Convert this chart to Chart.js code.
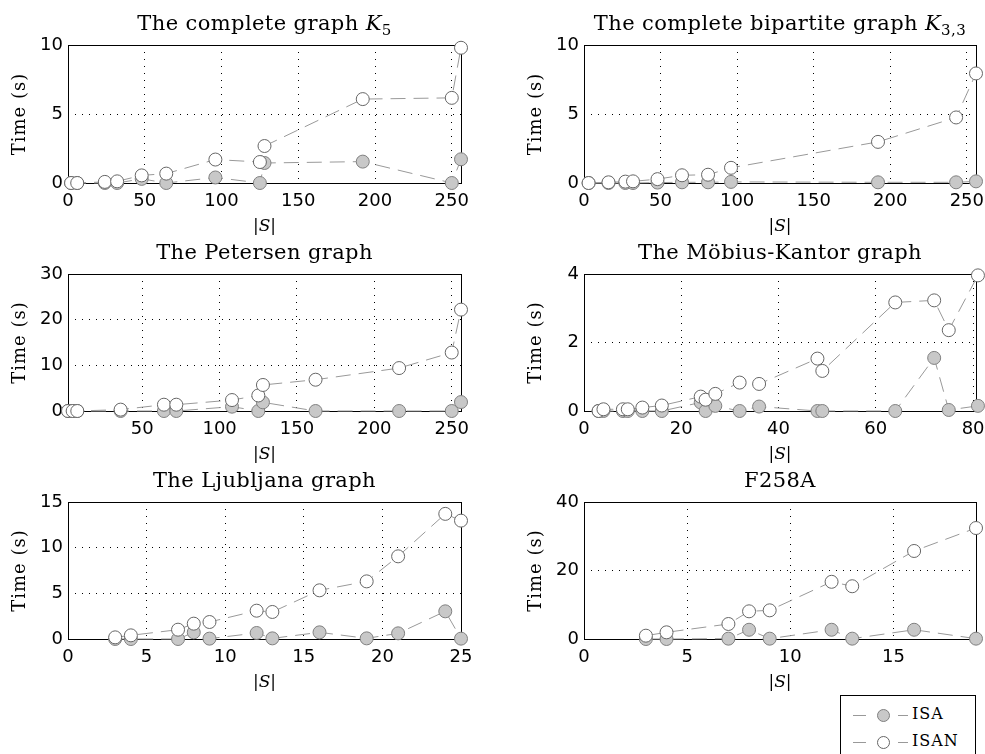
<!DOCTYPE html>
<html>
<head>
<meta charset="utf-8">
<script src="https://cdn.jsdelivr.net/npm/chart.js@4.4.1/dist/chart.umd.min.js"></script>
<style>
  html, body { margin: 0; padding: 0; background: #fff; }
  body { width: 985px; height: 754px; position: relative; overflow: hidden; }
  canvas { position: absolute; }
  #legend {
    position: absolute; left: 840px; top: 695px; width: 136px; height: 70px;
    border: 1px solid #000; background: #fff; box-sizing: border-box;
    font-family: "DejaVu Serif", serif; font-size: 16px; letter-spacing: 1px;
  }
  #legend .row { position: absolute; left: 0; height: 16px; width: 100%; }
  #legend .dash { position: absolute; top: 8px; height: 0; border-top: 1px solid #999; }
  #legend .dot { position: absolute; top: 2px; left: 36px; width: 11px; height: 11px; border-radius: 50%; }
  #legend .lbl { position: absolute; left: 71px; top: -3px; }
</style>
</head>
<body>
<canvas id="k5" width="490" height="240" style="left:0;top:0"></canvas>
<canvas id="k33" width="490" height="240" style="left:516px;top:0"></canvas>
<canvas id="pet" width="490" height="240" style="left:0;top:229px"></canvas>
<canvas id="mk" width="490" height="240" style="left:516px;top:229px"></canvas>
<canvas id="lj" width="490" height="240" style="left:0;top:457px"></canvas>
<canvas id="f258" width="490" height="240" style="left:516px;top:457px"></canvas>
<div id="legend"></div>
<script>
// series names
const seriesNames = ['ISA', 'ISAN'];

// The complete graph K5
const k5X = [2, 6, 24, 32, 48, 64, 96, 125, 128, 192, 250, 256];
const k5Isa = [0, 0, 0, 0, 0.3, 0, 0.4, 0, 1.45, 1.55, 0, 1.72];
const k5Isan = [0, 0, 0.08, 0.12, 0.55, 0.68, 1.7, 1.52, 2.68, 6.08, 6.17, 9.8];
const k5XTicks = [0, 50, 100, 150, 200, 250];
const k5YTicks = [0, 5, 10];

// The complete bipartite graph K3,3
const k33X = [3, 16, 27, 32, 48, 64, 81, 96, 192, 243, 256];
const k33Isa = [0, 0, 0, 0, 0.03, 0.05, 0.05, 0.08, 0.05, 0.05, 0.12];
const k33Isan = [0, 0.05, 0.1, 0.12, 0.28, 0.56, 0.6, 1.1, 2.98, 4.75, 7.94];
const k33XTicks = [0, 50, 100, 150, 200, 250];
const k33YTicks = [0, 5, 10];

// The Petersen graph
const petX = [2, 5, 8, 36, 64, 72, 108, 125, 128, 162, 216, 250, 256];
const petIsa = [0, 0, 0, 0, 0, 0, 0.95, 0, 1.9, 0, 0, 0, 1.96];
const petIsan = [0, 0, 0, 0.3, 1.38, 1.38, 2.4, 3.4, 5.7, 6.85, 9.4, 12.8, 22.2];
const petXTicks = [50, 100, 150, 200, 250];
const petYTicks = [0, 10, 20, 30];

// The Mobius-Kantor graph
const mkX = [3, 4, 8, 9, 12, 16, 24, 25, 27, 32, 36, 48, 49, 64, 72, 75, 81];
const mkIsa = [0, 0, 0, 0, 0, 0, 0.25, 0, 0.15, 0, 0.13, 0, 0, 0, 1.55, 0.03, 0.15];
const mkIsan = [0, 0.05, 0.05, 0.05, 0.1, 0.16, 0.42, 0.33, 0.5, 0.83, 0.79, 1.53, 1.17, 3.17, 3.23, 2.36, 3.96];
const mkXTicks = [0, 20, 40, 60, 80];
const mkYTicks = [0, 2, 4];

// The Ljubljana graph
const ljX = [3, 4, 7, 8, 9, 12, 13, 16, 19, 21, 24, 25];
const ljIsa = [0, 0, 0, 0.73, 0.04, 0.66, 0.07, 0.73, 0.07, 0.62, 3.03, 0.04];
const ljIsan = [0.18, 0.4, 1.02, 1.68, 1.86, 3.1, 2.96, 5.33, 6.31, 9.05, 13.7, 12.96];
const ljXTicks = [0, 5, 10, 15, 20, 25];
const ljYTicks = [0, 5, 10, 15];

// F258A
const fX = [3, 4, 7, 8, 9, 12, 13, 16, 19];
const fIsa = [0, 0, 0.1, 2.7, 0.1, 2.7, 0.1, 2.7, 0.1];
const fIsan = [0.97, 1.95, 4.38, 8.08, 8.37, 16.7, 15.4, 25.7, 32.4];
const fXTicks = [0, 5, 10, 15];
const fYTicks = [0, 20, 40];

const SERIF = '"DejaVu Serif", serif';
const SANS = '"DejaVu Sans", sans-serif';
const LINE = '#999999';
const styles = [
  { fill: '#c8c8c8', edge: '#808080' },
  { fill: '#ffffff', edge: '#666666' }
];

// box around the plot area
const framePlugin = {
  id: 'frame',
  beforeDatasetsDraw(chart) {
    const { ctx, chartArea: a } = chart;
    ctx.save();
    ctx.strokeStyle = '#000';
    ctx.lineWidth = 1;
    ctx.strokeRect(Math.round(a.left) + 0.5, Math.round(a.top) + 0.5,
      Math.round(a.right - a.left), Math.round(a.bottom - a.top));
    ctx.restore();
  }
};

// text with italic and subscript parts
function drawRich(ctx, parts, cx, y, size, spacing) {
  ctx.letterSpacing = (spacing || 0) + 'px';
  const fonts = parts.map(p => {
    if (p[1] === 'i') return 'italic ' + size + 'px ' + SERIF;
    if (p[1] === 'sub') return Math.round(size * 0.7) + 'px ' + SERIF;
    return size + 'px ' + SERIF;
  });
  let total = 0;
  const widths = parts.map((p, i) => {
    ctx.font = fonts[i];
    const w = ctx.measureText(p[0]).width;
    total += w;
    return w;
  });
  let x = cx - total / 2;
  ctx.textAlign = 'left';
  ctx.textBaseline = 'alphabetic';
  parts.forEach((p, i) => {
    ctx.font = fonts[i];
    ctx.fillText(p[0], x, p[1] === 'sub' ? y + size * 0.22 : y);
    x += widths[i];
  });
  ctx.letterSpacing = '0px';
}

const textPlugin = {
  id: 'texts',
  afterDraw(chart, args, opts) {
    const { ctx, chartArea: a } = chart;
    const cx = (a.left + a.right) / 2;
    ctx.save();
    ctx.fillStyle = '#000';
    drawRich(ctx, opts.title, cx, a.top - 15, 21, 0.4);
    drawRich(ctx, [['|', ''], ['S', 'i'], ['|', '']], cx, a.bottom + 48, 17, 0);
    ctx.translate(a.left - 43, (a.top + a.bottom) / 2);
    ctx.rotate(-Math.PI / 2);
    drawRich(ctx, [['Time (s)', '']], 0, 0, 18, 1);
    ctx.restore();
  }
};

function series(xs, ys, k) {
  return {
    label: seriesNames[k],
    data: xs.map((x, i) => ({ x: x, y: ys[i] })),
    showLine: true,
    borderColor: LINE,
    borderWidth: 1,
    borderDash: [15, 8],
    pointRadius: 6.5,
    pointBackgroundColor: styles[k].fill,
    pointBorderColor: styles[k].edge,
    pointBorderWidth: 1,
    tension: 0,
    fill: false,
    clip: false,
    order: 2 - k
  };
}

function makePanel(id, title, xs, isa, isan, xMin, xMax, yMax, xTicks, yTicks, plotH, padRight) {
  new Chart(document.getElementById(id), {
    type: 'line',
    data: { datasets: [series(xs, isa, 0), series(xs, isan, 1)] },
    options: {
      responsive: false,
      animation: false,
      events: [],
      layout: { padding: { top: 45, right: padRight, bottom: 0, left: 0 } },
      plugins: {
        legend: { display: false },
        tooltip: { enabled: false },
        texts: { title: title }
      },
      scales: {
        x: {
          type: 'linear',
          min: xMin,
          max: xMax,
          afterBuildTicks: s => { s.ticks = xTicks.map(v => ({ value: v })); },
          afterFit: s => { s.height = 240 - 45 - plotH; },
          grid: { color: '#000', lineWidth: 1, drawTicks: false },
          border: { display: false, dash: [1, 6] },
          ticks: { color: '#000', padding: 8, font: { family: SANS, size: 18 }, maxRotation: 0 }
        },
        y: {
          min: 0,
          max: yMax,
          afterBuildTicks: s => { s.ticks = yTicks.map(v => ({ value: v })); },
          afterFit: s => { s.width = 68; },
          grid: { color: '#000', lineWidth: 1, drawTicks: false },
          border: { display: false, dash: [1, 6] },
          ticks: { color: '#000', padding: 5, font: { family: SANS, size: 18 } }
        }
      }
    },
    plugins: [framePlugin, textPlugin]
  });
}

makePanel('k5', [['The complete graph ', ''], ['K', 'i'], ['5', 'sub']],
  k5X, k5Isa, k5Isan, 0, 256, 10, k5XTicks, k5YTicks, 138, 29);
makePanel('k33', [['The complete bipartite graph ', ''], ['K', 'i'], ['3,3', 'sub']],
  k33X, k33Isa, k33Isan, 0, 256, 10, k33XTicks, k33YTicks, 138, 30);
makePanel('pet', [['The Petersen graph', '']],
  petX, petIsa, petIsan, 2, 256, 30, petXTicks, petYTicks, 137, 29);
makePanel('mk', [['The Möbius-Kantor graph', '']],
  mkX, mkIsa, mkIsan, 0, 80.6, 4, mkXTicks, mkYTicks, 137, 30);
makePanel('lj', [['The Ljubljana graph', '']],
  ljX, ljIsa, ljIsan, 0, 25, 15, ljXTicks, ljYTicks, 137, 29);
makePanel('f258', [['F258A', '']],
  fX, fIsa, fIsan, 0, 19, 40, fXTicks, fYTicks, 137, 30);

// legend box
const legend = document.getElementById('legend');
seriesNames.forEach((name, k) => {
  const row = document.createElement('div');
  row.className = 'row';
  row.style.top = (11 + k * 27) + 'px';
  row.innerHTML =
    '<span class="dash" style="left:12px;width:13px"></span>' +
    '<span class="dot" style="background:' + styles[k].fill + ';border:1px solid ' + styles[k].edge + '"></span>' +
    '<span class="dash" style="left:57px;width:10px"></span>' +
    '<span class="lbl">' + name + '</span>';
  legend.appendChild(row);
});
</script>
</body>
</html>
